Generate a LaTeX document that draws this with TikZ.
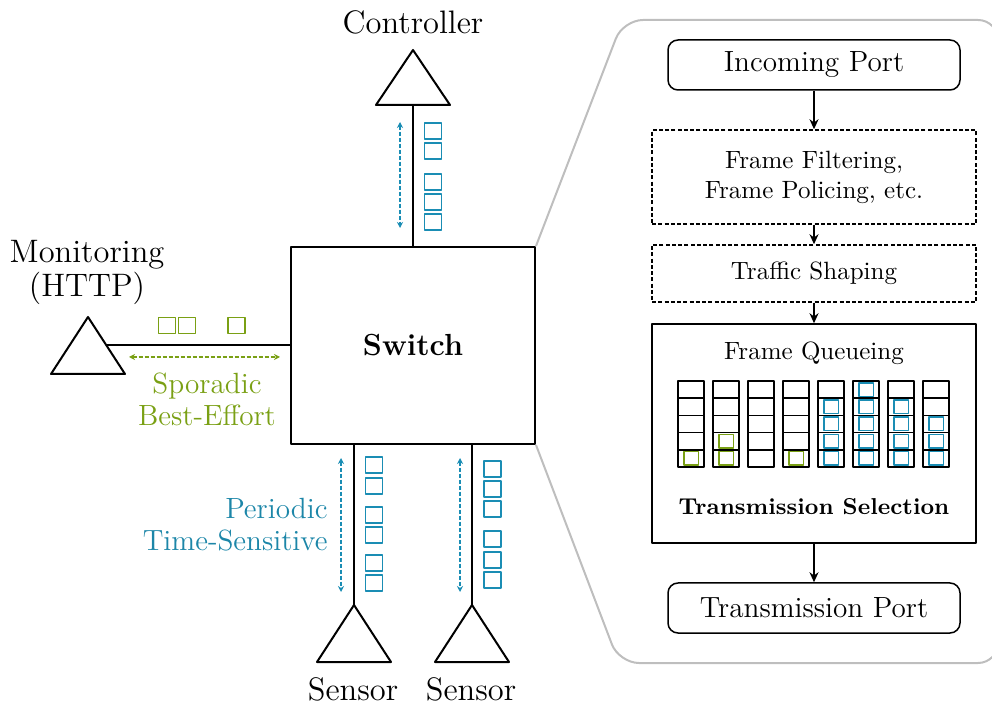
\documentclass[tikz,border=0pt]{standalone}
\usetikzlibrary{arrows.meta}
\definecolor{tsgreen}{RGB}{122,160,20}
\definecolor{tsblue}{RGB}{26,141,180}
\definecolor{tsbluetxt}{RGB}{28,134,168}
\definecolor{outl}{RGB}{190,190,190}
\begin{document}
\begin{tikzpicture}[x=0.4pt,y=-0.4pt,line join=round,
  blk/.style={line width=0.8pt},
  sq/.style={draw,minimum width=6.8pt,minimum height=6.4pt,inner sep=0pt,line width=0.6pt},
  gsq/.style={sq,draw=tsgreen},
  bsq/.style={sq,draw=tsblue},
  bigtxt/.style={font=\fontsize{13}{13.6}\selectfont,align=center,inner sep=0pt},
  midtxt/.style={font=\fontsize{11.7}{12.9}\selectfont,inner sep=0pt},
  smalltxt/.style={font=\fontsize{10}{12}\selectfont,align=center,inner sep=0pt},
  flowbox/.style={draw,line width=0.6pt,minimum width=129.6pt,inner sep=0pt,align=center},
  portbox/.style={draw,line width=0.6pt,rounded corners=4pt,minimum width=116.8pt,minimum height=20pt,inner sep=0pt,font=\fontsize{11.7}{13}\selectfont},
  dashbox/.style={flowbox,dash pattern=on 1.6pt off 0.9pt},
  flowarrow/.style={line width=0.6pt,-{Stealth[length=4pt,width=3.6pt]}},
  trafarrow/.style={line width=0.45pt,dash pattern=on 1.6pt off 0.8pt,{Stealth[length=2.4pt,width=2.4pt]}-{Stealth[length=2.4pt,width=2.4pt]}},
  cell/.style={draw,line width=0.65pt,minimum width=10.4pt,minimum height=6.88pt,inner sep=0pt},
  qg/.style={draw=tsgreen,line width=0.6pt,minimum width=5.8pt,minimum height=5.4pt,inner sep=0pt},
  qb/.style={draw=tsblue,line width=0.6pt,minimum width=5.8pt,minimum height=5.4pt,inner sep=0pt}
]
\useasboundingbox (0,0) rectangle (992,704);

% switch
\node[draw,blk,minimum width=97.6pt,minimum height=78.8pt,inner sep=0pt,
  font=\fontsize{12.2}{14}\selectfont\bfseries] (sw) at (413,345.5) {Switch};

% zoom outline
\draw[outl,line width=0.8pt,rounded corners=8pt]
  (sw.north east) -- (623,20) -- (998,20) -- (998,663) -- (619,663) -- (sw.south east);

% controller
\coordinate (ctrlA) at (413,50);
\coordinate (ctrl) at (413,105);
\draw[blk] (ctrlA) -- (376,105) -- (450,105) -- cycle;
\node[bigtxt] (ctrlL) at (413,22) {Controller};
\draw[blk] (sw.north) -- (ctrl);
\coordinate (ca1) at (400,122);
\coordinate (ca2) at (400,228);
\draw[tsblue,trafarrow] (ca1) -- (ca2);
\foreach \y [count=\i] in {131,151,182,202,222}
  \node[bsq] (cs\i) at (433,\y) {};

% monitoring
\draw[blk] (88,317) -- (51,374) -- (125,374) -- cycle;
\coordinate (mon) at (106,345);
\draw[blk] (mon) -- (mon -| sw.west);
\node[bigtxt] (monL) at (87,272) {Monitoring\\(HTTP)};
\foreach \x [count=\i] in {167,187,236.5}
  \node[gsq] (ms\i) at (\x,325.5) {};
\coordinate (ma1) at (129,357);
\coordinate (ma2) at (280,357);
\draw[tsgreen,trafarrow] (ma1) -- (ma2);
\node[midtxt,text=tsgreen,align=center] (spor) at (207,399) {Sporadic\\Best-Effort};

% sensors
\coordinate (s1) at (354,605);
\coordinate (s2) at (472,605);
\draw[blk] (s1) -- (317,662) -- (391,662) -- cycle;
\draw[blk] (s2) -- (435,662) -- (509,662) -- cycle;
\draw[blk] (s1 |- sw.south) -- (s1);
\draw[blk] (s2 |- sw.south) -- (s2);
\node[bigtxt] (s1L) at (353,689) {Sensor};
\node[bigtxt] (s2L) at (471,689) {Sensor};
\coordinate (sa1) at (341,458);
\coordinate (sa2) at (341,592);
\coordinate (sb1) at (460,458);
\coordinate (sb2) at (460,592);
\draw[tsblue,trafarrow] (sa1) -- (sa2);
\draw[tsblue,trafarrow] (sb1) -- (sb2);
\foreach \y [count=\i] in {465,486,515,535,563,583}
  \node[bsq] (ss\i) at (374,\y) {};
\foreach \y [count=\i] in {469,489,509,539,560,580}
  \node[bsq] (st\i) at (492.5,\y) {};
\node[midtxt,text=tsbluetxt,align=right,anchor=east] (per) at (328,525) {Periodic\\Time-Sensitive};

% flow
\node[portbox] (inp) at (814,65) {Incoming Port};
\node[dashbox,minimum height=37.6pt,font=\fontsize{10}{12}\selectfont] (ff) at (814,177) {Frame Filtering,\\Frame Policing, etc.};
\node[dashbox,minimum height=22.8pt,font=\fontsize{10}{12}\selectfont] (ts) at (814,273.5) {Traffic Shaping};
\node[flowbox,minimum height=87.6pt] (fq) at (814,433.5) {};
\node[portbox] (outp) at (814,608) {Transmission Port};
\draw[flowarrow] (inp) -- (ff);
\draw[flowarrow] (ff) -- (ts);
\draw[flowarrow] (ts) -- (fq);
\draw[flowarrow] (fq) -- (outp);
\node[smalltxt] (fqL) at (814,353) {Frame Queueing};
\node[smalltxt,font=\fontsize{9.2}{11}\selectfont\bfseries] (tsel) at (814,507) {Transmission Selection};

\foreach \c in {1,...,8}
  \foreach \r in {1,...,5}
    \node[cell] (q-\c-\r) at ({691+35*(\c-1)},{389.6+17.2*(\r-1)}) {};
\foreach \c/\r in {1/5,2/4,2/5,4/5}
  \node[qg] at (q-\c-\r) {};
\foreach \c/\r in {5/2,5/3,5/4,5/5,6/1,6/2,6/3,6/4,6/5,7/2,7/3,7/4,7/5,8/3,8/4,8/5}
  \node[qb] at (q-\c-\r) {};
\end{tikzpicture}
\end{document}
